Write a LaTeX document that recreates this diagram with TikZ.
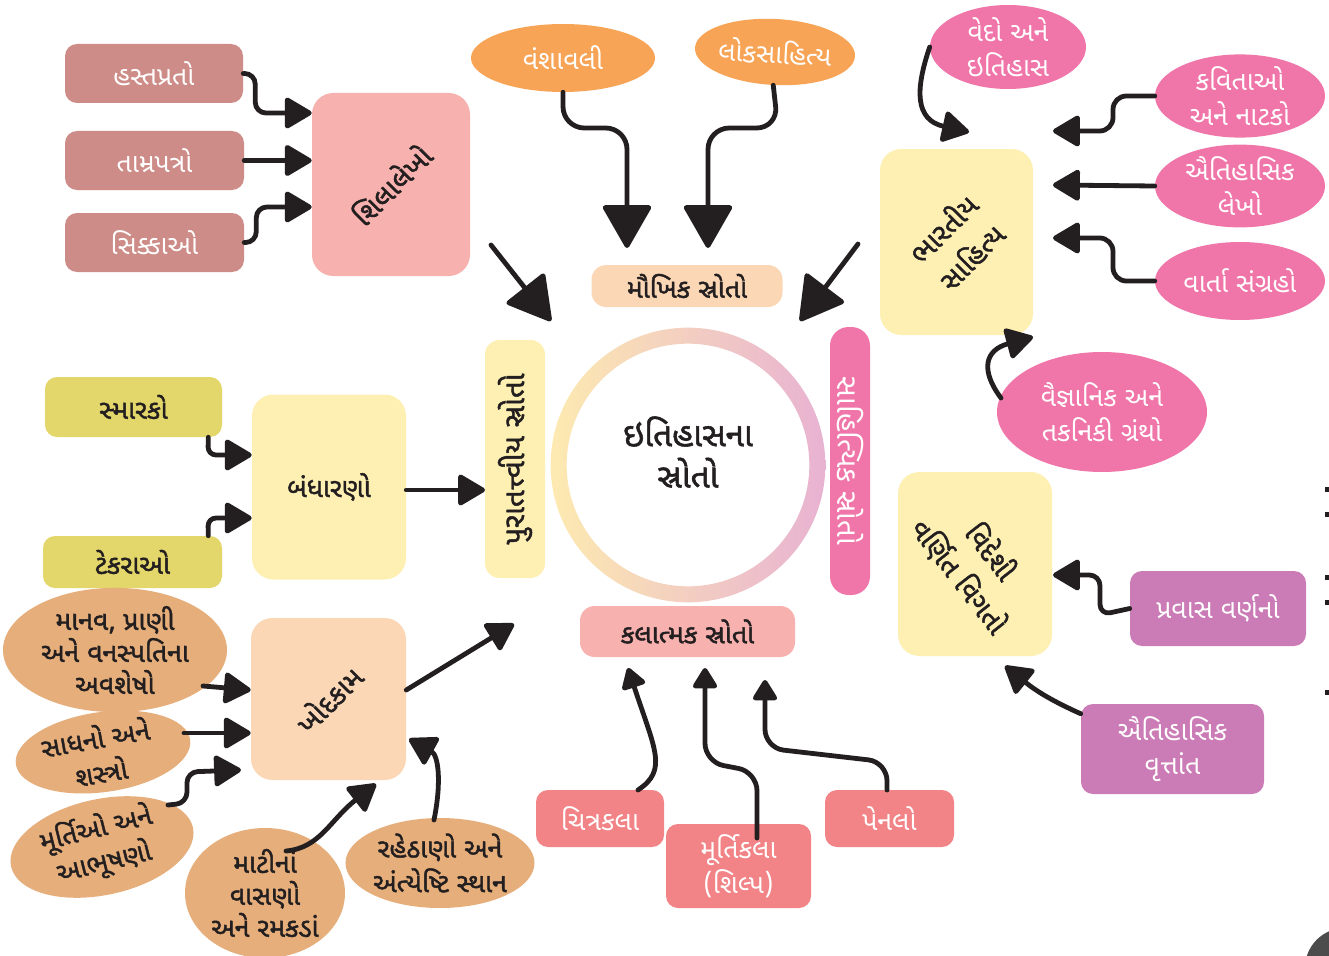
\documentclass[tikz,border=0pt]{standalone}
\usepackage{fontspec}
\newfontfamily\guj[Script=Gujarati]{Noto Sans Gujarati UI}
\newfontfamily\gujb[Script=Gujarati,FakeBold=1.6]{Noto Sans Gujarati UI}
\usetikzlibrary{arrows.meta,shapes.geometric,calc}
\definecolor{ink}{HTML}{231F20}
\definecolor{roseBox}{HTML}{CD8C87}
\definecolor{shilaPink}{HTML}{F7B1AE}
\definecolor{orangeE}{HTML}{F8A456}
\definecolor{peach}{HTML}{FCD7B5}
\definecolor{hotPink}{HTML}{F075A8}
\definecolor{paleYel}{HTML}{FEF0B3}
\definecolor{olive}{HTML}{E3D66A}
\definecolor{tan}{HTML}{E6AE7A}
\definecolor{salmon}{HTML}{F28386}
\definecolor{mauve}{HTML}{CB7BB5}
\definecolor{ringY}{HTML}{FDEAB0}
\definecolor{ringM}{HTML}{F9D2D0}
\definecolor{ringR}{HTML}{E8B2D2}
\tikzset{
  sz/.style 2 args={minimum width=#1*0.75pt, minimum height=#2*0.75pt},
  wtext/.style={text=white, font=\guj\fontsize{20}{26}\selectfont, align=center},
  btext/.style={text=ink, font=\gujb\fontsize{20}{26}\selectfont, align=center},
  bigtext/.style={text=ink, font=\gujb\fontsize{21}{30}\selectfont, align=center},
  rbox/.style={rounded corners=9pt, inner sep=0pt},
  bigbox/.style={rounded corners=16pt, inner sep=0pt},
  ell/.style={ellipse, inner sep=0pt},
  strip/.style={rounded corners=11pt, inner sep=0pt},
  con/.style={draw=ink, line width=3.6pt, line cap=round, line join=round},
  tipS/.style={-{Triangle[length=17pt,width=20pt,round]}},
  tipM/.style={-{Triangle[length=22pt,width=25pt,round]}},
  tipL/.style={-{Triangle[length=34pt,width=38pt,round]}},
}
\begin{document}
\begin{tikzpicture}[x=0.75pt,y=-0.75pt]
\useasboundingbox (0,0) rectangle (1329,956);
\fill[white] (0,0) rectangle (1329,956);

% ---------- left top group ----------
\node[rbox, fill=roseBox, sz={178}{59}, wtext] (hasta) at (154,73.5) {હસ્તપ્રતો};
\node[rbox, fill=roseBox, sz={179}{59}, wtext] (tamra) at (154.5,160.5) {તામ્રપત્રો};
\node[rbox, fill=roseBox, sz={179}{59}, wtext] (sikka) at (154.5,242.5) {સિક્કાઓ};
\node[bigbox, fill=shilaPink, sz={158}{183}] (shila) at (391,184.5) {};
\node[bigtext, rotate=45] (shilaT) at (shila.center) {શિલાલેખો};

% ---------- top middle ----------
\node[ell, fill=orangeE, sz={184}{68}, wtext] (vansh) at (563,58) {વંશાવલી};
\node[ell, fill=orangeE, sz={160}{66}, wtext, rotate=-3] (lok) at (775,52) {લોકસાહિત્ય};
\node[strip, fill=peach, sz={191}{42}, btext] (maukhik) at (687,286) {મૌખિક સ્રોતો};

% ---------- right top ----------
\node[ell, fill=hotPink, sz={156}{84}, wtext] (vedo) at (1008,47) {વેદો અને\\ઇતિહાસ};
\node[ell, fill=hotPink, sz={170}{76}, wtext] (kavita) at (1240,96) {કવિતાઓ\\અને નાટકો};
\node[ell, fill=hotPink, sz={170}{80}, wtext] (lekho) at (1240,186) {ઐતિહાસિક\\લેખો};
\node[ell, fill=hotPink, sz={170}{78}, wtext] (varta) at (1240,281) {વાર્તા સંગ્રહો};
\node[bigbox, fill=paleYel, sz={153}{186}] (bharat) at (956.5,242) {};
\node[bigtext, rotate=45] (bharatT) at (bharat.center) {ભારતીય\\સાહિત્ય};
\node[ell, fill=hotPink, sz={210}{120}, wtext] (vaigy) at (1102,412) {વૈજ્ઞાનિક અને\\તકનિકી ગ્રંથો};

% ---------- left middle ----------
\node[rbox, fill=olive, sz={177}{60}, btext] (smarak) at (133.5,407) {સ્મારકો};
\node[rbox, fill=olive, sz={179}{52}, btext] (tekra) at (132.5,562) {ટેકરાઓ};
\node[bigbox, fill=paleYel, sz={154}{185}, btext] (bandh) at (329,487) {બંધારણો};
\node[strip, fill=paleYel, sz={60}{238}] (purat) at (515,459) {};
\node[btext, font=\gujb\fontsize{22}{26}\selectfont, rotate=90] (puratT) at (purat.center) {પુરાતત્ત્વીય સ્રોતો};

% ---------- centre ----------
\shade[left color=ringY, middle color=ringM, right color=ringR, even odd rule]
  (688,465) circle[radius=103pt] (688,465) circle[radius=91pt];
\node[btext, font=\gujb\fontsize{25}{31}\selectfont] (centre) at (688,452) {ઇતિહાસના\\સ્રોતો};
\node[rounded corners=14pt, inner sep=0pt, fill=hotPink, sz={40}{268}] (sahit) at (850,461) {};
\node[wtext, font=\guj\fontsize{22}{26}\selectfont, rotate=-90] (sahitT) at (sahit.center) {સાહિત્યિક સ્રોતો};
\node[strip, fill=shilaPink, sz={215}{51}, btext] (kala) at (687.5,631.5) {કલાત્મક સ્રોતો};

% ---------- right middle ----------
\node[bigbox, fill=paleYel, sz={154}{184}] (videshi) at (975,564) {};
\node[bigtext, rotate=-52] (videshiT) at (videshi.center) {વિદેશી\\વર્ણિત વિગતો};
\node[rbox, fill=mauve, sz={176}{75}, wtext] (pravas) at (1218,608.5) {પ્રવાસ વર્ણનો};
\node[rbox, fill=mauve, sz={183}{90}, wtext] (vrutant) at (1172.5,749) {ઐતિહાસિક\\વૃત્તાંત};

% ---------- bottom left ----------
\node[bigbox, fill=peach, sz={155}{162}] (khod) at (328.5,699) {};
\node[bigtext, rotate=45] (khodT) at (khod.center) {ખોદકામ};
\node[ell, fill=tan, sz={224}{110}, btext, font=\gujb\fontsize{20}{24}\selectfont] (manav) at (115,650) {માનવ, પ્રાણી\\અને વનસ્પતિના\\અવશેષો};
\node[ell, fill=tan, sz={176}{80}, rotate=8] (sadhan) at (103,752) {};
\node[btext, rotate=10] (sadhanT) at (98,754) {સાધનો અને\\શસ્ત્રો};
\node[ell, fill=tan, sz={186}{96}, rotate=12] (murti) at (102,847) {};
\node[btext, rotate=14] (murtiT) at (100,846) {મૂર્તિઓ અને\\આભૂષણો};
\node[ell, fill=tan, sz={160}{130}, btext, font=\gujb\fontsize{20}{24}\selectfont] (mati) at (265,893) {માટીનાં\\વાસણો\\અને રમકડાં};
\node[ell, fill=tan, sz={184}{90}, btext] (raheth) at (440,863) {રહેઠાણો અને\\અંત્યેષ્ટિ સ્થાન};

% ---------- bottom middle ----------
\node[rbox, fill=salmon, sz={128}{57}, wtext] (chitra) at (600,818.5) {ચિત્રકલા};
\node[rbox, fill=salmon, sz={145}{84}, wtext] (murtik) at (738.5,866) {મૂર્તિકલા\\(શિલ્પ)};
\node[rbox, fill=salmon, sz={129}{57}, wtext] (panel) at (889.5,818.5) {પેનલો};

% ---------- page artefacts at the right edge ----------
\fill[gray!60!black] (1345,968) circle[radius=30pt];
\foreach \yy in {487,512,575,600,690} \fill[ink] (1325,\yy) rectangle (1330,\yy+5);

% ---------- named free ends ----------
\coordinate (tMa) at (627,248);
\coordinate (tMb) at (708,248);
\coordinate (dShs) at (491,245);
\coordinate (dSht) at (551,321);
\coordinate (dBhs) at (858,244);
\coordinate (dBht) at (800,321);
\coordinate (tVedo) at (969,132);
\coordinate (tKav) at (1053,131);
\coordinate (tLek) at (1053,185);
\coordinate (tVar) at (1053,238);
\coordinate (tVai) at (1033,337);
\coordinate (tBan) at (485,490);
\coordinate (tKhod) at (514,624);
\coordinate (tChi) at (628,668);
\coordinate (tMur) at (705,668);
\coordinate (tPan) at (765,680);
\coordinate (tPra) at (1053,575);
\coordinate (tVru) at (1005,666);

% ---------- connectors ----------
\draw[con, tipM, rounded corners=8pt] (hasta.east) -- ++(12,0) |- (shila.west |- 0,113);
\draw[con, tipM] (tamra.east) -- (shila.west |- tamra.east);
\draw[con, tipM, rounded corners=8pt] (sikka.east) -- ++(12,0) |- (shila.west |- 0,207);

\draw[con, tipL, rounded corners=16pt] (vansh.south) -- (563,128) -- (627,128) -- (tMa);
\draw[con, tipL, rounded corners=16pt] (lok.south) -- (778,128) -- (708,128) -- (tMb);
\draw[con, tipL] (dShs) -- (dSht);
\draw[con, tipL] (dBhs) -- (dBht);

\draw[con, tipM] (vedo.west) .. controls (915,90) and (915,120) .. (tVedo);
\draw[con, tipM, rounded corners=10pt] (kavita.west) -- (1113,96) |- (tKav);
\draw[con, tipM] (lekho.west) -- (tLek);
\draw[con, tipM, rounded corners=10pt] (varta.west) -- (1113,281) |- (tVar);
\draw[con, tipM] (1001,398) .. controls (980,370) and (985,350) .. (tVai);

\draw[con, tipM, rounded corners=6pt] (smarak.south east) ++(-14,0) -- (208,455) -- (bandh.west |- 0,455);
\draw[con, tipM, rounded corners=6pt] (tekra.north east) ++(-14,0) -- (208,518) -- (bandh.west |- 0,518);
\draw[con, tipM] (bandh.east |- 0,490) -- (tBan);

\draw[con, tipM] (khod.east |- 0,690) -- (tKhod);
\draw[con, tipM] (203,686) -- (khod.west |- 0,690);
\draw[con, tipM] (184,733) -- (khod.west |- 0,733);
\draw[con, tipM, rounded corners=8pt] (168,805) -- (187,803) -- (187,772) -- (241,770);
\draw[con, tipM] (286,851) .. controls (320,848) and (330,820) .. (376,784);
\draw[con, tipM] (434,820) .. controls (442,780) and (438,755) .. (409,739);

\draw[con, tipS] (638,790) .. controls (668,770) and (655,750) .. (tChi);
\draw[con, tipS, rounded corners=14pt] (757,838) -- (757,772) -- (705,762) -- (tMur);
\draw[con, tipS, rounded corners=14pt] (887,790) -- (887,762) -- (765,748) -- (tPan);

\draw[con, tipM, rounded corners=8pt] (pravas.west) -- (1100,615) |- (tPra);
\draw[con, tipM] (vrutant.north west) ++(0,10) .. controls (1050,700) and (1035,690) .. (tVru);
\end{tikzpicture}
\end{document}
